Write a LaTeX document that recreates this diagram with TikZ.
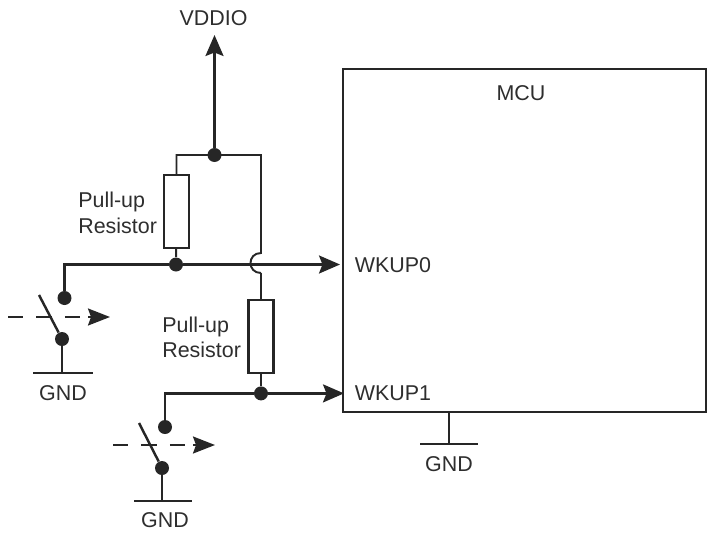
\documentclass[tikz,border=0pt]{standalone}
\usepackage{fontspec}
\setmainfont{Liberation Sans}
\usetikzlibrary{arrows.meta}

\definecolor{wirecol}{HTML}{262626}
\definecolor{textcol}{HTML}{2E2E2E}

\tikzset{
  wire/.style={draw=wirecol,line width=1.4pt},
  thinwire/.style={draw=wirecol,line width=1.1pt},
  dot/.style={circle,fill=wirecol,inner sep=0pt,minimum size=0.28cm},
  resbox/.style={rectangle,draw=wirecol,line width=1.2pt,fill=white,minimum width=0.5cm,minimum height=1.46cm,inner sep=0pt,outer sep=0pt},
  lbl/.style={text=textcol,font=\fontsize{12.2}{14.6}\selectfont,inner sep=0pt},
  big/.style={-{Stealth[length=0.42cm,width=0.36cm,inset=0.07cm]}},
  swarrow/.style={draw=wirecol,line width=1.2pt,-{Stealth[length=0.44cm,width=0.34cm,inset=0.06cm]}},
  swdash/.style={draw=wirecol,line width=1.25pt,dash pattern=on 0.31cm off 0.26cm},
}

\begin{document}
\begin{tikzpicture}[x=0.02cm,y=-0.02cm]
\useasboundingbox (0,0) rectangle (715,537);

% mcu
\node[rectangle,draw=wirecol,line width=1.3pt,minimum width=7.26cm,minimum height=6.86cm,outer sep=0pt] (mcu) at (524.5,240.5) {};
\node[lbl] (mculbl) at (521,93) {MCU};
\node[lbl,anchor=west] (wkup0) at (354.5,265) {WKUP0};
\node[lbl,anchor=west] (wkup1) at (354.5,393) {WKUP1};
\coordinate (mcugnd) at (449,444);
\coordinate (mcugndl) at (420,444);
\coordinate (mcugndr) at (478,444);
\draw[thinwire] (mcu.south -| mcugnd) -- (mcugnd);
\draw[thinwire] (mcugndl) -- (mcugndr);
\node[lbl] (mcugndlbl) at (449,464) {GND};

% supply
\node[lbl] (vddio) at (213.5,18) {VDDIO};
\coordinate (vtip) at (214.5,35);
\node[dot] (jtop) at (214.5,155) {};
\draw[wire,big] (jtop) -- (vtip);

% upper resistor
\node[resbox] (res0) at (176.5,211.5) {};
\node[dot] (j0) at (176,264.5) {};
\coordinate (topl) at (176.5,155);
\coordinate (topr) at (261,155);
\coordinate (hopt) at (261,253);
\coordinate (hopb) at (261,273);
\draw[thinwire] (res0) -- (topl) -- (topr) -- (hopt) .. controls (247,253) and (247,273) .. (hopb);
\draw[thinwire] (res0) -- (j0);
\node[lbl,align=left,anchor=west] (pull0) at (78,213) {Pull-up\\Resistor};

% lower resistor
\node[resbox] (res1) at (261,336.5) {};
\node[dot] (j1) at (261,393.4) {};
\draw[thinwire] (hopb) -- (res1);
\draw[thinwire] (res1) -- (j1);
\node[lbl,align=left,anchor=west] (pull1) at (162,337.5) {Pull-up\\Resistor};

% left switch
\node[dot] (s0top) at (64.5,298) {};
\node[dot] (s0bot) at (62,339) {};
\coordinate (tip0) at (340,264.5);
\draw[wire] (s0top) |- (j0);
\draw[wire,big] (j0) -- (tip0);
\coordinate (blade0) at (39,295);
\draw[wire] (blade0) -- (s0bot);
\coordinate (d0a) at (8,317);
\coordinate (d0b) at (81,317);
\coordinate (d0c) at (88,317);
\coordinate (d0d) at (110,317);
\draw[swdash] (d0a) -- (d0b);
\draw[swarrow] (d0c) -- (d0d);
\coordinate (gnd0) at (62,373);
\coordinate (gnd0l) at (33,373);
\coordinate (gnd0r) at (93,373);
\draw[wire] (s0bot) -- (gnd0);
\draw[wire] (gnd0l) -- (gnd0r);
\node[lbl] (gnd0lbl) at (63,393) {GND};

% right switch
\node[dot] (s1top) at (165,427) {};
\node[dot] (s1bot) at (162,468) {};
\coordinate (tip1) at (344,393.4);
\draw[wire] (s1top) |- (j1);
\draw[wire,big] (j1) -- (tip1);
\coordinate (blade1) at (139,423);
\draw[wire] (blade1) -- (s1bot);
\coordinate (d1a) at (113,445);
\coordinate (d1b) at (186,445);
\coordinate (d1c) at (193,445);
\coordinate (d1d) at (215,445);
\draw[swdash] (d1a) -- (d1b);
\draw[swarrow] (d1c) -- (d1d);
\coordinate (gnd1) at (162,501);
\coordinate (gnd1l) at (134,501);
\coordinate (gnd1r) at (192,501);
\draw[wire] (s1bot) -- (gnd1);
\draw[wire] (gnd1l) -- (gnd1r);
\node[lbl] (gnd1lbl) at (165,520) {GND};

\end{tikzpicture}
\end{document}
